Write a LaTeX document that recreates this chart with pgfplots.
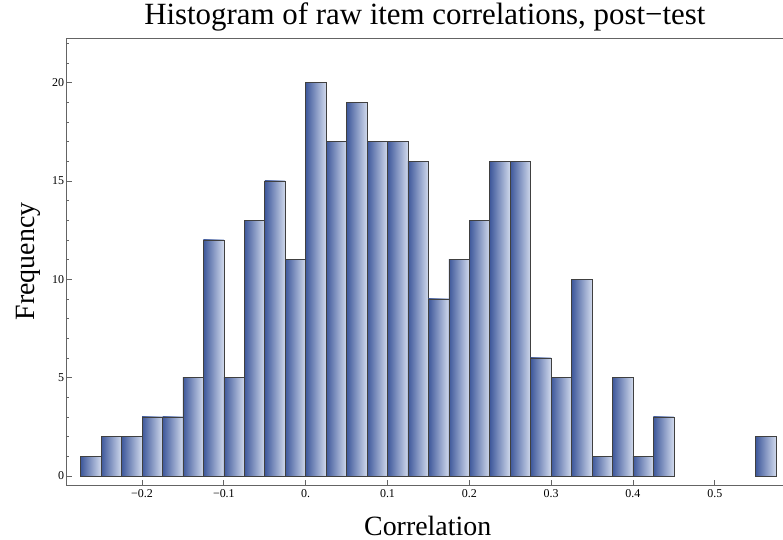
\documentclass[border=0pt]{standalone}
\usepackage{fontspec}
\setmainfont{Liberation Serif}
\usepackage{pgfplots}
\pgfplotsset{compat=1.18}
\definecolor{barDark}{RGB}{62,88,155}
\definecolor{barLight}{RGB}{208,217,236}
\definecolor{axGray}{RGB}{100,100,100}
\pgfplotsset{histbar/.style={ybar, bar width=0.025, bar shift=0pt, left color=barDark, right color=barLight, draw=black!75, line width=0.6bp}}
\newcommand\histbin[2]{\addplot[histbar] coordinates {(#1,#2)};}
\begin{document}
\begin{tikzpicture}
\begin{axis}[
  scale only axis,
  width=716.3bp, height=447bp,
  xmin=-0.2921, xmax=0.5834,
  ymin=-0.458, ymax=22.27,
  axis line style={axGray, line width=0.9bp},
  tick style={axGray, line width=0.8bp},
  xtick pos=bottom, ytick pos=left,
  tick align=inside,
  major tick length=5bp, minor tick length=2.7bp,
  xtick={-0.2,-0.1,0,0.1,0.2,0.3,0.4,0.5},
  xticklabels={−0.2,−0.1,0.,0.1,0.2,0.3,0.4,0.5},
  ytick={0,5,10,15,20},
  minor ytick={1,2,3,4,6,7,8,9,11,12,13,14,16,17,18,19,21,22},
  /pgf/number format/assume math mode=true,
  ticklabel style={font=\fontsize{12}{12}\selectfont},
  xticklabel style={yshift=-1.5bp},
  yticklabel style={xshift=1bp},
  title={Histogram of raw item correlations, post−test},
  title style={at={(axis description cs:0.5,1)}, anchor=south, inner sep=0pt, yshift=1bp, font=\fontsize{31}{31}\selectfont},
  xlabel={Correlation},
  xlabel style={at={(axis description cs:0.504,-0.1119)}, anchor=base, inner sep=0pt, font=\fontsize{28}{28}\selectfont},
  ylabel={Frequency},
  ylabel style={at={(axis description cs:-0.0450,0.5)}, anchor=base, rotate=0, inner sep=0pt, font=\fontsize{28}{28}\selectfont},
]
\histbin{-0.2625}{1}
\histbin{-0.2375}{2}
\histbin{-0.2125}{2}
\histbin{-0.1875}{3}
\histbin{-0.1625}{3}
\histbin{-0.1375}{5}
\histbin{-0.1125}{12}
\histbin{-0.0875}{5}
\histbin{-0.0625}{13}
\histbin{-0.0375}{15}
\histbin{-0.0125}{11}
\histbin{0.0125}{20}
\histbin{0.0375}{17}
\histbin{0.0625}{19}
\histbin{0.0875}{17}
\histbin{0.1125}{17}
\histbin{0.1375}{16}
\histbin{0.1625}{9}
\histbin{0.1875}{11}
\histbin{0.2125}{13}
\histbin{0.2375}{16}
\histbin{0.2625}{16}
\histbin{0.2875}{6}
\histbin{0.3125}{5}
\histbin{0.3375}{10}
\histbin{0.3625}{1}
\histbin{0.3875}{5}
\histbin{0.4125}{1}
\histbin{0.4375}{3}
\histbin{0.5625}{2}
\end{axis}
\pgfresetboundingbox
\path[use as bounding box] (-66.7bp,-55bp) rectangle (716.3bp,485bp);
\end{tikzpicture}
\end{document}
